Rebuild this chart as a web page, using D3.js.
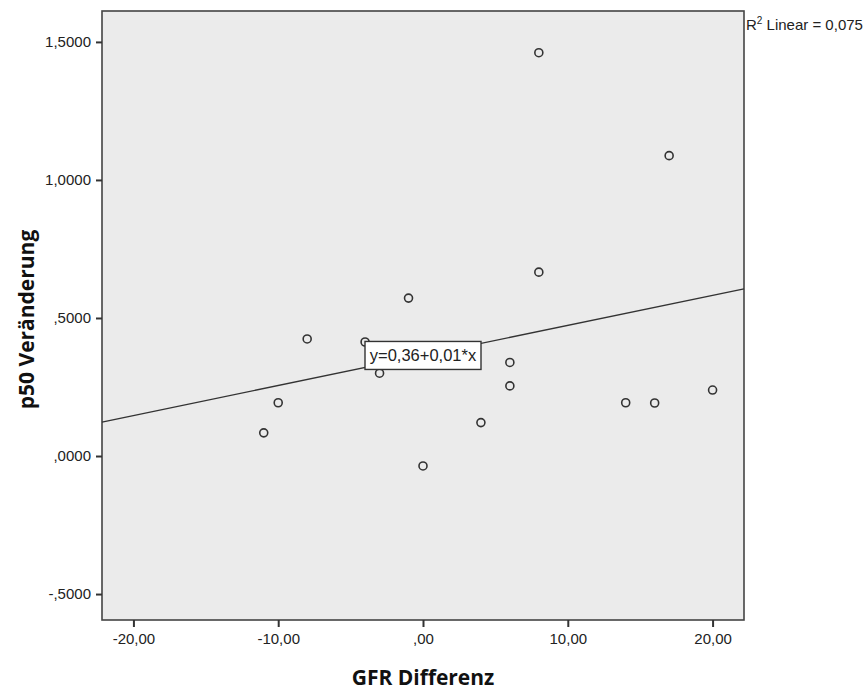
<!DOCTYPE html>
<html>
<head>
<meta charset="utf-8">
<script src="https://cdn.jsdelivr.net/npm/d3@7"></script>
<style>
  body { margin: 0; background: #fff; }
  .tick text { font-family: "Liberation Sans", Arial, sans-serif; font-size: 15px; fill: #222; }
  .axis-title { font-family: "Open Sans", "Noto Sans", sans-serif; font-weight: bold; font-size: 21px; fill: #111; }
</style>
</head>
<body>
<div id="chart"></div>
<script>
// GFR Differenz (x) vs p50 Veränderung (y)
const gfr_diff = [-11, -10, -8, -4, -3, -1, 0, 4, 6, 6, 8, 8, 14, 16, 17, 20];
const p50_change = [0.084, 0.193, 0.424, 0.413, 0.300, 0.572, -0.036, 0.121,
                    0.339, 0.254, 1.461, 0.666, 0.193, 0.192, 1.088, 0.239];
const x_ticks = [-20, -10, 0, 10, 20];
const y_ticks = [-0.5, 0, 0.5, 1.0, 1.5];
const x_title = "GFR Differenz";
const y_title = "p50 Veränderung";

const width = 866, height = 693;
const margin = { top: 11, right: 122, bottom: 73, left: 102 };

const svg = d3.select("#chart").append("svg")
  .attr("width", width)
  .attr("height", height);

const x = d3.scaleLinear().domain([-22.17, 22.17])
  .range([margin.left, width - margin.right]);
const y = d3.scaleLinear().domain([-0.594, 1.612])
  .range([height - margin.bottom, margin.top]);

// comma decimal, no leading zero (SPSS style)
const fmt = (v, d) => {
  let s = Math.abs(v).toFixed(d).replace(".", ",");
  if (s.startsWith("0,")) s = s.slice(1);
  return (v < 0 ? "-" : "") + s;
};

svg.append("rect")
  .attr("x", x.range()[0]).attr("y", y.range()[1])
  .attr("width", x.range()[1] - x.range()[0])
  .attr("height", y.range()[0] - y.range()[1])
  .attr("fill", "#ebebeb")
  .attr("stroke", "#444")
  .attr("stroke-width", 1.6);

const xAxis = svg.append("g")
  .attr("transform", `translate(0,${y.range()[0]})`)
  .call(d3.axisBottom(x).tickValues(x_ticks).tickSize(7).tickPadding(6)
    .tickFormat(d => fmt(d, 2)));
xAxis.select(".domain").remove();
xAxis.selectAll("line").attr("stroke", "#333").attr("stroke-width", 2);

const yAxis = svg.append("g")
  .attr("transform", `translate(${x.range()[0]},0)`)
  .call(d3.axisLeft(y).tickValues(y_ticks).tickSize(6).tickPadding(5)
    .tickFormat(d => d >= 1 ? d.toFixed(4).replace(".", ",") : fmt(d, 4)));
yAxis.select(".domain").remove();
yAxis.selectAll("line").attr("stroke", "#333").attr("stroke-width", 2);

// linear fit
const n = gfr_diff.length;
const mx = d3.mean(gfr_diff), my = d3.mean(p50_change);
let sxy = 0, sxx = 0, syy = 0;
for (let i = 0; i < n; i++) {
  sxy += (gfr_diff[i] - mx) * (p50_change[i] - my);
  sxx += (gfr_diff[i] - mx) ** 2;
  syy += (p50_change[i] - my) ** 2;
}
const slope = sxy / sxx;
const intercept = my - slope * mx;
const r2 = sxy * sxy / (sxx * syy);

const xd = x.domain();
svg.append("line")
  .attr("x1", x(xd[0])).attr("y1", y(intercept + slope * xd[0]))
  .attr("x2", x(xd[1])).attr("y2", y(intercept + slope * xd[1]))
  .attr("stroke", "#333").attr("stroke-width", 1.4);

svg.append("g").selectAll("circle")
  .data(gfr_diff.map((d, i) => [d, p50_change[i]]))
  .join("circle")
  .attr("cx", d => x(d[0]))
  .attr("cy", d => y(d[1]))
  .attr("r", 4)
  .attr("fill", "none")
  .attr("stroke", "#333")
  .attr("stroke-width", 1.6);

// equation label, centred on the line at mid-plot
const midX = (xd[0] + xd[1]) / 2;
const lab = svg.append("g")
  .attr("transform", `translate(${x(midX)},${y(intercept + slope * midX)})`);
lab.append("rect")
  .attr("x", -58).attr("y", -14).attr("width", 116).attr("height", 28)
  .attr("fill", "#fff").attr("stroke", "#333").attr("stroke-width", 1.4);
lab.append("text")
  .attr("text-anchor", "middle").attr("dy", "0.36em")
  .style("font-family", "'Liberation Sans', Arial, sans-serif")
  .style("font-size", "16.5px").attr("fill", "#222")
  .text(`y=${intercept.toFixed(2).replace(".", ",")}+${slope.toFixed(2).replace(".", ",")}*x`);

// R² note
const r2t = svg.append("text")
  .attr("x", x.range()[1] + 2).attr("y", 30)
  .style("font-family", "'Liberation Sans', Arial, sans-serif")
  .style("font-size", "15px").attr("fill", "#222");
r2t.append("tspan").text("R");
r2t.append("tspan").attr("dy", -6).style("font-size", "10px").text("2");
r2t.append("tspan").attr("dy", 6).text(" Linear = " + r2.toFixed(3).replace(".", ","));

svg.append("text").attr("class", "axis-title")
  .attr("x", (x.range()[0] + x.range()[1]) / 2).attr("y", 685)
  .attr("text-anchor", "middle")
  .text(x_title);

svg.append("text").attr("class", "axis-title")
  .attr("transform", `translate(34,${(y.range()[0] + y.range()[1]) / 2 + 4}) rotate(-90)`)
  .attr("text-anchor", "middle")
  .text(y_title);
</script>
</body>
</html>
